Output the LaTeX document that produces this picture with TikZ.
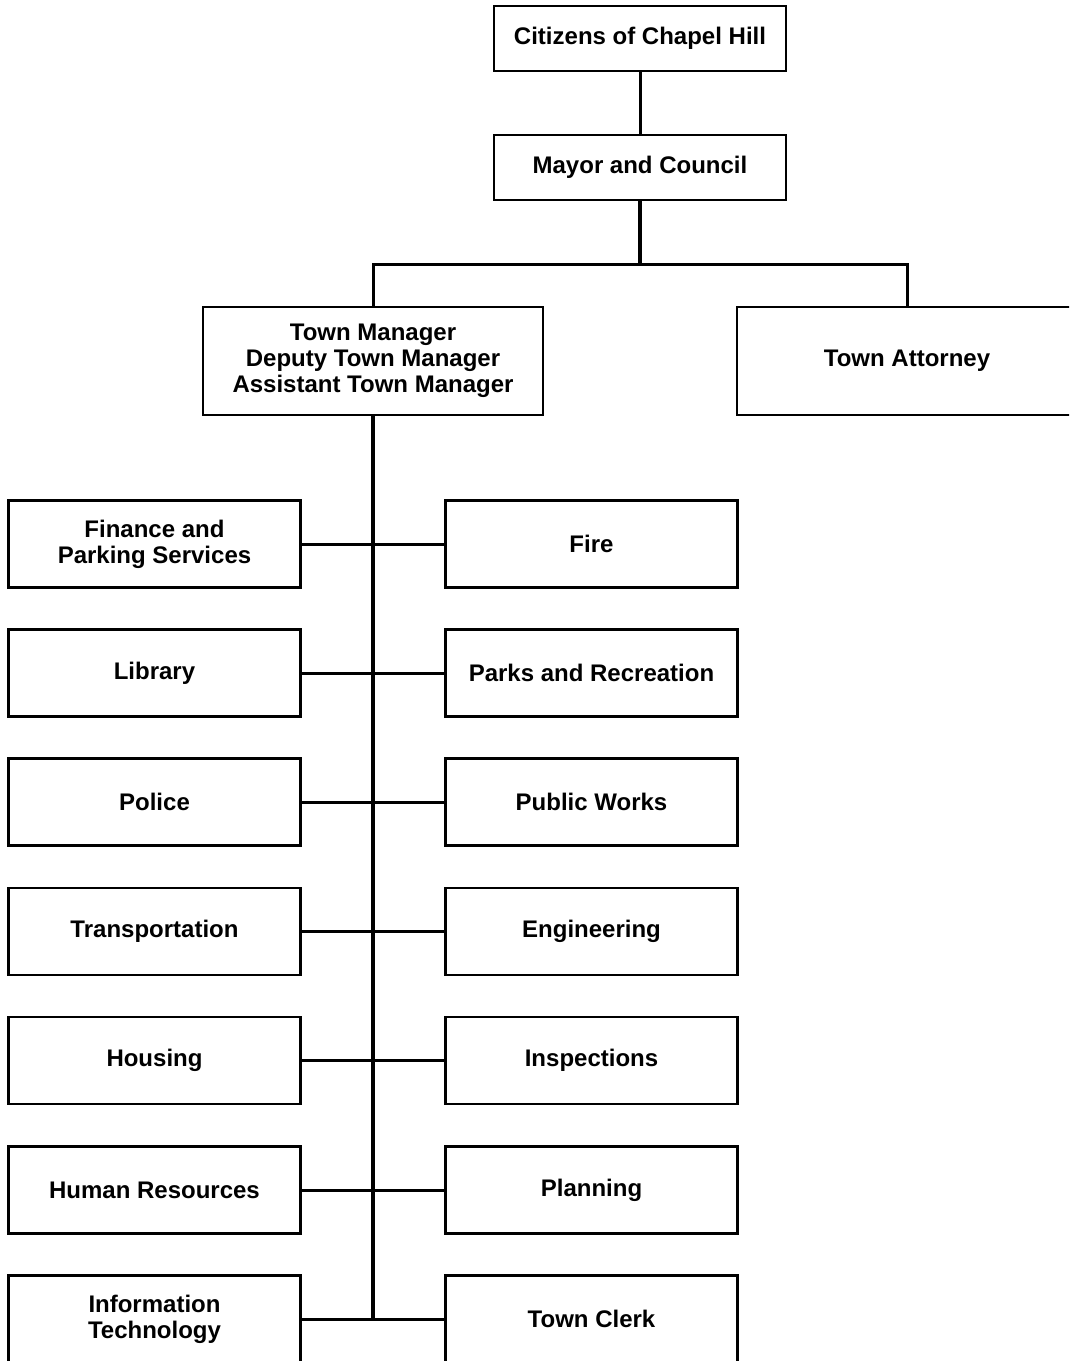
\documentclass[tikz,border=0pt]{standalone}
\usepackage{fontspec}
\setmainfont{Liberation Sans}
\begin{document}
\begin{tikzpicture}[x=1pt,y=-1pt,
  box/.style={draw, line width=2.6pt, inner sep=0pt, align=center,
    font=\bfseries\fontsize{24}{26}\selectfont},
  dept/.style={box, minimum width=292pt, minimum height=87pt},
  topbox/.style={box, minimum width=292pt, minimum height=65pt},
  bigbox/.style={box, minimum width=340pt, minimum height=108pt},
  conn/.style={line width=3pt},
  trunk/.style={line width=3.8pt}]
\useasboundingbox (0,0) rectangle (1069,1361);
\clip (0,0) rectangle (1069,1361);
\fill[white] (0,0) rectangle (1069,1361);
\node[topbox] (cit) at (640,38.5) {Citizens of Chapel Hill};
\node[topbox] (may) at (640,167.5) {Mayor and Council};
\node[bigbox] (tm) at (373,361) {Town Manager\\Deputy Town Manager\\Assistant Town Manager};
\node[bigbox] (ta) at (907,361) {Town Attorney};
\coordinate (bus) at (640,264);
\node[dept] (l1) at (154.5,544) {Finance and\\Parking Services};
\node[dept] (l2) at (154.5,673) {Library};
\node[dept] (l3) at (154.5,802) {Police};
\node[dept] (l4) at (154.5,931.5) {Transportation};
\node[dept] (l5) at (154.5,1060.5) {Housing};
\node[dept] (l6) at (154.5,1190) {Human Resources};
\node[dept] (l7) at (154.5,1319) {Information\\Technology};
\node[dept] (r1) at (591.5,544) {Fire};
\node[dept] (r2) at (591.5,673) {Parks and Recreation};
\node[dept] (r3) at (591.5,802) {Public Works};
\node[dept] (r4) at (591.5,931.5) {Engineering};
\node[dept] (r5) at (591.5,1060.5) {Inspections};
\node[dept] (r6) at (591.5,1190) {Planning};
\node[dept] (r7) at (591.5,1319) {Town Clerk};
\coordinate (tend) at (373,1319);
\draw[conn] (cit) -- (may);
\draw[trunk] (may.south) -- (bus);
\draw[conn] (tm.north) |- (bus) -| (ta.north);
\draw[trunk] (tm.south) -- (tend);
\foreach \i in {1,...,7}{\draw[conn] (l\i.east) -- (r\i.west);}
\end{tikzpicture}
\end{document}
